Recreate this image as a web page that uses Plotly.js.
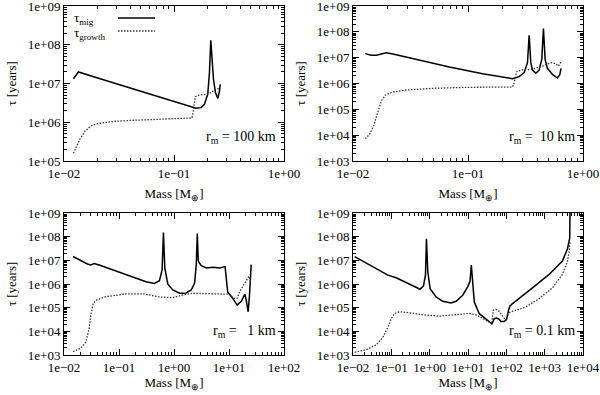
<!DOCTYPE html>
<html>
<head>
<meta charset="utf-8">
<script src="https://cdn.plot.ly/plotly-3.0.1.min.js"></script>
<style>html,body{margin:0;padding:0;background:#fff;}#chart{width:600px;height:395px;}</style>
</head>
<body>
<div id="chart"></div>
<script>
// ---- Data ----
// Panel 1: r_m = 100 km
const m1_mig = [0.01218, 0.01353, 0.0206, 0.0417, 0.0842, 0.1284, 0.1585, 0.176, 0.189, 0.2027, 0.210, 0.2160, 0.2222, 0.2285, 0.2382, 0.2503, 0.2593, 0.263];
const t1_mig = [1.33e7, 1.98e7, 1.36e7, 7.36e6, 3.98e6, 2.79e6, 2.29e6, 2.38e6, 2.90e6, 5.25e6, 1.9e7, 1.3e8, 4.2e7, 1.28e7, 5.8e6, 4.14e6, 6.4e6, 9.5e6];
const m1_grow = [0.01218, 0.01306, 0.01403, 0.01557, 0.01792, 0.02063, 0.0293, 0.0417, 0.0842, 0.1457, 0.1498, 0.1563, 0.170, 0.196, 0.2175, 0.2333, 0.2503, 0.263];
const t1_grow = [1.58e5, 2.44e5, 3.77e5, 5.94e5, 8.32e5, 9.37e5, 1.06e6, 1.12e6, 1.21e6, 1.29e6, 1.95e6, 4.57e6, 5.05e6, 5.25e6, 5.8e6, 6.8e6, 7.36e6, 7.1e6];

// Panel 2: r_m = 10 km
const m2_mig = [0.01279, 0.01442, 0.01594, 0.01761, 0.01946, 0.02223, 0.0354, 0.0689, 0.134, 0.2439, 0.2786, 0.3078, 0.329, 0.340, 0.3517, 0.3637, 0.3888, 0.4155, 0.438, 0.4530, 0.4683, 0.4907, 0.542, 0.599, 0.628, 0.6444];
const t2_mig = [1.43e7, 1.23e7, 1.23e7, 1.39e7, 1.56e7, 1.39e7, 8.6e6, 4.35e6, 2.40e6, 1.54e6, 1.84e6, 2.63e6, 6.4e6, 7.3e7, 6.4e6, 3.33e6, 2.48e6, 3.33e6, 8.6e6, 1.33e8, 8.6e6, 3.87e6, 2.26e6, 1.63e6, 2.2e6, 3.87e6];
const m2_grow = [0.01279, 0.01395, 0.01510, 0.01647, 0.01761, 0.0192, 0.02223, 0.0290, 0.0494, 0.0961, 0.2439, 0.2522, 0.2642, 0.288, 0.3637, 0.4440, 0.5245, 0.5794, 0.611, 0.6444];
const t2_grow = [7.3e3, 1.08e4, 2.26e4, 7.4e4, 2.1e5, 3.59e5, 4.69e5, 5.6e5, 6.5e5, 7.1e5, 7.3e5, 1.08e6, 2.79e6, 3.33e6, 3.53e6, 4.75e6, 6.4e6, 5.86e6, 4.75e6, 6.8e6];

// Panel 3: r_m = 1 km
const m3_mig = [0.01461, 0.02015, 0.0267, 0.0307, 0.0353, 0.0436, 0.0879, 0.177, 0.310, 0.440, 0.5435, 0.6078, 0.643, 0.680, 0.772, 0.952, 1.26, 1.668, 2.058, 2.368, 2.541, 2.65, 2.763, 3.134, 3.868, 5.12, 6.78, 8.48, 8.97, 9.49, 11.5, 14.05, 16.86, 19.4, 20.8, 22.3, 23.6, 24.6, 25.3];
const t3_mig = [1.45e7, 9.8e6, 7.05e6, 6.4e6, 7.3e6, 6.4e6, 3.54e6, 1.96e6, 1.24e6, 1.05e6, 1.37e6, 4.03e6, 1.49e8, 4.75e6, 9.8e5, 5.6e5, 4.06e5, 4.19e5, 5.6e5, 1.09e6, 6.6e6, 1.35e8, 9.2e6, 5.98e6, 4.75e6, 5.08e6, 4.75e6, 5.42e6, 1.28e6, 4.48e5, 2.65e5, 1.29e5, 1.9e5, 3.8e5, 1.79e5, 6.7e4, 3.44e5, 2.47e6, 6.6e6];
const m3_grow = [0.01461, 0.02015, 0.02487, 0.0286, 0.0307, 0.0339, 0.039, 0.0577, 0.1337, 0.289, 0.357, 0.5435, 0.952, 1.45, 2.21, 5.12, 10.3, 11.9, 14.05, 15.7, 19.4, 22.3, 23.6, 24.6];
const t3_grow = [1.39e3, 1.93e3, 3.48e3, 1.29e4, 4.8e4, 1.52e5, 2.1e5, 2.92e5, 3.8e5, 3.8e5, 3.44e5, 2.83e5, 2.65e5, 3.44e5, 4.06e5, 3.93e5, 3.68e5, 2.48e5, 2.48e5, 4.8e5, 1.2e6, 1.9e6, 2.1e6, 1.26e6];

// Panel 4: r_m = 0.1 km
const m4_mig = [0.01105, 0.0222, 0.0494, 0.0813, 0.134, 0.244, 0.444, 0.564, 0.689, 0.777, 0.825, 0.893, 1.027, 1.47, 2.19, 3.61, 4.88, 7.27, 9.8, 11.3, 12.2, 12.97, 14.6, 19.7, 29.4, 39.6, 42.1, 48.4, 55.7, 65.3, 72.2, 88.1, 101.4, 114, 124, 145, 216, 481, 1305, 2900, 3917, 4500, 4590];
const t4_mig = [1.43e7, 7.45e6, 3.52e6, 2.38e6, 1.83e6, 1.16e6, 6.9e5, 6.0e5, 8.4e5, 2.38e6, 8.1e7, 3.3e6, 6.4e5, 2.84e5, 1.86e5, 1.58e5, 1.86e5, 3.35e5, 7.57e5, 1.32e6, 6.3e6, 1.24e6, 1.74e5, 5.56e4, 3.19e4, 2.23e4, 2.08e4, 3.4e4, 3.63e4, 3.19e4, 2.62e4, 2.62e4, 3.19e4, 7.7e4, 1.18e5, 1.48e5, 2.42e5, 6.9e5, 2.54e6, 9.4e6, 3.03e7, 8.6e7, 1.6e9];
const m4_grow = [0.01105, 0.0222, 0.0404, 0.0603, 0.0813, 0.0993, 0.1213, 0.1637, 0.298, 0.662, 1.80, 4.88, 10.8, 16.2, 24.1, 35.9, 42.1, 45.6, 53.5, 65.3, 79.8, 97.4, 114, 145, 323, 717, 1594, 2900, 3917, 4325, 4590];
const t4_grow = [1.3e3, 1.69e3, 2.67e3, 5.65e3, 1.5e4, 3.4e4, 5.56e4, 6.76e4, 6.1e4, 5.0e4, 4.4e4, 5.0e4, 5.7e4, 5.0e4, 3.4e4, 2.45e4, 2.45e4, 7.7e4, 8.5e4, 7.0e4, 4.4e4, 2.89e4, 6.1e4, 7.0e4, 1.07e5, 2.4e5, 6.9e5, 2.54e6, 8.8e6, 2.19e7, 6.2e7];

const panelLabels = ['r<sub>m</sub> = 100 km', 'r<sub>m</sub> =  10 km', 'r<sub>m</sub> =   1 km', 'r<sub>m</sub> = 0.1 km'];
const legendNames = ['τ<sub>mig</sub>', 'τ<sub>growth</sub>'];
const xTitle = 'Mass [M<sub>⊕</sub>]';
const yTitle = 'τ [years]';

// ---- Helpers ----
const W = 600, H = 395;
const FONT = 'Liberation Serif';
function decades(a, b) { const v = [], t = []; for (let k = a; k <= b; k++) { v.push(Math.pow(10, k)); t.push('1e' + (k < 0 ? '−' : '+') + String(Math.abs(k)).padStart(2, '0')); } return [v, t]; }
function minors(a, b) { const v = []; for (let k = a; k < b; k++) for (let j = 2; j <= 9; j++) v.push(j * Math.pow(10, k)); return v; }
function px2x(p) { return p / W; }
function px2y(p) { return 1 - p / H; }

function axis(lo, hi, dom, anchor, title, standoff) {
  const [tv, tt] = decades(lo, hi);
  return {
    type: 'log', range: [lo, hi], domain: dom, anchor: anchor,
    showline: true, linecolor: '#000', linewidth: 1, mirror: 'allticks',
    ticks: 'inside', ticklen: 6, tickwidth: 1, tickcolor: '#000',
    tickmode: 'array', tickvals: tv, ticktext: tt, ticklabeloverflow: 'allow',
    minor: { ticks: 'inside', ticklen: 3, tickwidth: 1, tickcolor: '#000', tickmode: 'array', tickvals: minors(lo, hi), showgrid: false },
    showgrid: false, zeroline: false,
    tickfont: { family: FONT, size: 13, color: '#000' },
    title: { text: title, font: { family: FONT, size: 13, color: '#000' }, standoff: standoff }
  };
}

// panel pixel boxes [left, right, top, bottom]
const boxes = [[64, 284, 6, 161], [353, 583, 6, 161], [64, 284, 213, 355], [353, 583, 213, 355]];
const xr = [[-2, 0], [-2, 0], [-2, 2], [-2, 4]];
const yr = [[5, 9], [3, 9], [3, 9], [3, 9]];
const xStand = [9, 9, 4, 4];
const mig = [[m1_mig, t1_mig], [m2_mig, t2_mig], [m3_mig, t3_mig], [m4_mig, t4_mig]];
const grow = [[m1_grow, t1_grow], [m2_grow, t2_grow], [m3_grow, t3_grow], [m4_grow, t4_grow]];

const traces = [];
const layout = {
  width: W, height: H, margin: { l: 0, r: 0, t: 0, b: 0 },
  paper_bgcolor: '#fff', plot_bgcolor: '#fff', showlegend: false,
  font: { family: FONT, color: '#000' },
  annotations: [], shapes: []
};

for (let i = 0; i < 4; i++) {
  const s = i === 0 ? '' : String(i + 1);
  const b = boxes[i];
  layout['xaxis' + s] = axis(xr[i][0], xr[i][1], [px2x(b[0]), px2x(b[1])], 'y' + s, xTitle, xStand[i]);
  layout['yaxis' + s] = axis(yr[i][0], yr[i][1], [px2y(b[3]), px2y(b[2])], 'x' + s, yTitle, 8);
  traces.push({ x: mig[i][0], y: mig[i][1], xaxis: 'x' + s, yaxis: 'y' + s, mode: 'lines', name: legendNames[0],
    line: { color: '#000', width: 1.5 } });
  traces.push({ x: grow[i][0], y: grow[i][1], xaxis: 'x' + s, yaxis: 'y' + s, mode: 'lines', name: legendNames[1],
    line: { color: '#333', width: 1.3, dash: '1.5px,1.5px' } });
  layout.annotations.push({ xref: 'paper', yref: 'paper', x: px2x(b[1] - 6), y: px2y(b[3] - 24),
    xanchor: 'right', yanchor: 'middle', showarrow: false, text: panelLabels[i],
    font: { family: FONT, size: 14, color: '#000' } });
}

// legend in panel 1 (gnuplot style: text left, sample right)
layout.annotations.push({ xref: 'paper', yref: 'paper', x: px2x(72), y: px2y(18), xanchor: 'left', yanchor: 'middle',
  showarrow: false, text: legendNames[0], font: { family: FONT, size: 13, color: '#000' } });
layout.annotations.push({ xref: 'paper', yref: 'paper', x: px2x(72), y: px2y(33), xanchor: 'left', yanchor: 'middle',
  showarrow: false, text: legendNames[1], font: { family: FONT, size: 13, color: '#000' } });
layout.shapes.push({ type: 'line', xref: 'paper', yref: 'paper', x0: px2x(118), x1: px2x(155), y0: px2y(18), y1: px2y(18),
  line: { color: '#000', width: 1.5 } });
layout.shapes.push({ type: 'line', xref: 'paper', yref: 'paper', x0: px2x(118), x1: px2x(155), y0: px2y(31), y1: px2y(31),
  line: { color: '#333', width: 1.3, dash: '1.5px,1.5px' } });

Plotly.newPlot('chart', traces, layout, { staticPlot: true, displayModeBar: false });
</script>
</body>
</html>
